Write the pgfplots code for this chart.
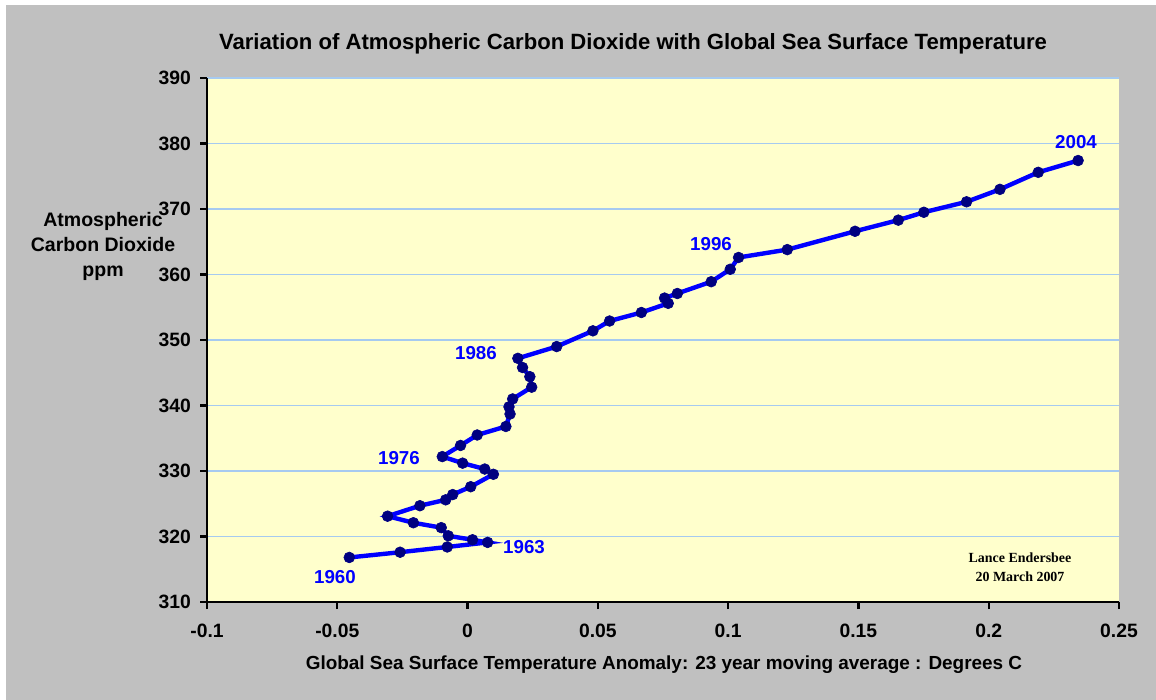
\documentclass[border=0pt]{standalone}
\usepackage{pgfplots}
\pgfplotsset{compat=1.18}
\usepackage{fontspec}
\setmainfont{Liberation Sans}
\newfontfamily\serifbold{Liberation Serif}
\definecolor{bggray}{RGB}{192,192,192}
\definecolor{plotyellow}{RGB}{255,255,204}
\definecolor{gridblue}{RGB}{166,202,240}
\definecolor{navy}{RGB}{0,0,128}
\definecolor{lblblue}{RGB}{0,0,255}
\begin{document}
\begin{tikzpicture}
\useasboundingbox (0,0) rectangle (578bp,350bp);
\fill[white] (0,0) rectangle (578bp,350bp);
\fill[bggray] (3bp,0) rectangle (578bp,347.5bp);
\begin{axis}[
  at={(103.5bp,49bp)}, anchor=south west,
  scale only axis, width=456bp, height=262bp,
  xmin=-0.1, xmax=0.25, ymin=310, ymax=390,
  axis x line=bottom, axis y line=left,
  axis line style={-, line width=1.4bp, black},
  axis background/.style={fill=plotyellow},
  xtick={-0.1,-0.05,0,0.05,0.1,0.15,0.2,0.25},
  xticklabels={-0.1,-0.05,0,0.05,0.1,0.15,0.2,0.25},
  ytick={310,320,...,390},
  yticklabels={310,320,330,340,350,360,370,380,390},
  tick align=outside, major tick length=3.5bp,
  tick style={black, line width=1.2bp},
  ymajorgrids, grid style={gridblue, line width=0.6bp},
  ticklabel style={font=\fontsize{9.7}{11}\selectfont\bfseries},
  xticklabel style={yshift=-4bp},
  yticklabel style={xshift=-1bp},
  clip=false,
]
\addplot[lblblue, line width=2.2bp, mark=*, mark size=2.7bp,
  mark options={fill=navy, draw=navy, line width=0.3bp}] coordinates {
(-0.0454,316.8) (-0.0259,317.6) (-0.0078,318.4) (0.0077,319.1)
(0.0019,319.5) (-0.0074,320.1) (-0.0101,321.35) (-0.0208,322.1)
(-0.0307,323.1) (-0.0183,324.7) (-0.0084,325.6) (-0.0057,326.4)
(0.0012,327.6) (0.0099,329.5) (0.0066,330.3) (-0.0019,331.2)
(-0.0097,332.2) (-0.0027,333.9) (0.0037,335.5) (0.0147,336.8)
(0.0163,338.7) (0.0159,339.8) (0.0173,341.0) (0.0246,342.8)
(0.0239,344.4) (0.0211,345.8) (0.0193,347.2) (0.0342,349.0)
(0.0481,351.4) (0.0545,352.9) (0.0667,354.2) (0.0770,355.6)
(0.0756,356.4) (0.0805,357.1) (0.0935,358.9) (0.1008,360.8)
(0.1040,362.6) (0.1227,363.8) (0.1487,366.6) (0.1653,368.3)
(0.1751,369.5) (0.1915,371.1) (0.2043,373.0) (0.2190,375.6)
(0.2343,377.4)
};
\end{axis}
\begin{scope}[font=\fontsize{9.4}{11}\selectfont\bfseries, text=lblblue]
\node at (167.5bp,61.5bp) {1960};
\node at (262bp,76.5bp) {1963};
\node at (199.5bp,121bp) {1976};
\node at (238bp,173.5bp) {1986};
\node at (355.5bp,228bp) {1996};
\node at (538bp,279bp) {2004};
\end{scope}
\node[font=\fontsize{11.1}{13}\selectfont\bfseries] at (316.5bp,328bp) {Variation of Atmospheric Carbon Dioxide with Global Sea Surface Temperature};
\node[font=\fontsize{9.5}{11}\selectfont\bfseries] at (332bp,17.5bp) {Global Sea Surface Temperature Anomaly: 23 year moving average : Degrees C};
\node[font=\fontsize{9.8}{12.5}\selectfont\bfseries, align=center] at (51.5bp,226.7bp) {Atmospheric\\Carbon Dioxide\\ppm};
\node[font=\fontsize{7}{9.5}\selectfont\serifbold\bfseries, align=center] at (510bp,66.5bp) {Lance Endersbee\\20 March 2007};
\end{tikzpicture}
\end{document}
